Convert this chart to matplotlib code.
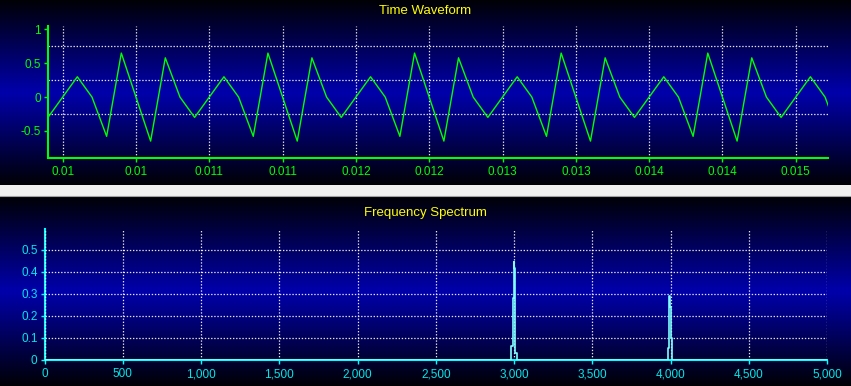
import numpy as np
import matplotlib
matplotlib.use("Agg")
import matplotlib.pyplot as plt
from matplotlib.colors import LinearSegmentedColormap

plt.rcParams['font.family'] = ['Liberation Sans', 'DejaVu Sans']

# ---------------- data ----------------
# Time waveform: samples every 0.1 ms starting at t = 0.0099 s
t_start = 0.0099
t_step = 0.0001
wave_values = [
    -0.30, 0.00, 0.30, 0.00, -0.58, 0.65, 0.00, -0.65, 0.58, 0.00,
    -0.30, 0.00, 0.30, 0.00, -0.58, 0.65, 0.00, -0.65, 0.58, 0.00,
    -0.30, 0.00, 0.30, 0.00, -0.58, 0.65, 0.00, -0.65, 0.58, 0.00,
    -0.30, 0.00, 0.30, 0.00, -0.58, 0.65, 0.00, -0.65, 0.58, 0.00,
    -0.30, 0.00, 0.30, 0.00, -0.58, 0.65, 0.00, -0.65, 0.58, 0.00,
    -0.30, 0.00, 0.30, 0.00, -0.58,
]
time_ticks = [0.0100, 0.0105, 0.0110, 0.0115, 0.0120, 0.0125,
              0.0130, 0.0135, 0.0140, 0.0145, 0.0150]
time_tick_labels = ['0.01', '0.01', '0.011', '0.011', '0.012', '0.012',
                    '0.013', '0.013', '0.014', '0.014', '0.015']
wave_yticks = [-0.5, 0, 0.5, 1]
wave_ytick_labels = ['-0.5', '0', '0.5', '1']
wave_grid_y = [-0.25, 0.25, 0.75]

# Frequency spectrum
spec_freq = [0, 2980, 2987, 2994, 3000, 3006, 3013, 3020,
             3980, 3987, 3994, 4000, 4006, 4013, 5000]
spec_amp = [0, 0, 0.064, 0.28, 0.447, 0.418, 0.033, 0,
            0, 0.056, 0.29, 0.24, 0.10, 0, 0]
freq_ticks = [0, 500, 1000, 1500, 2000, 2500, 3000, 3500, 4000, 4500, 5000]
freq_tick_labels = ['0', '500', '1,000', '1,500', '2,000', '2,500',
                    '3,000', '3,500', '4,000', '4,500', '5,000']
spec_yticks = [0, 0.1, 0.2, 0.3, 0.4, 0.5]
spec_ytick_labels = ['0', '0.1', '0.2', '0.3', '0.4', '0.5']

# ---------------- figure ----------------
W, H = 851, 386
fig = plt.figure(figsize=(W / 100, H / 100), dpi=100)
fig.patch.set_facecolor('#f0f0f0')

def fx(px):
    return px / W

def fy(py):
    return 1 - py / H

cmap = LinearSegmentedColormap.from_list(
    'bg', [(0, 0, 0.02), (0, 0, 0.67), (0, 0, 0.02)])
grad = np.linspace(0, 1, 256).reshape(-1, 1)

def panel_bg(top_px, bot_px):
    bg = fig.add_axes([0, fy(bot_px), 1, (bot_px - top_px) / H], zorder=0)
    bg.imshow(grad, aspect='auto', cmap=cmap, extent=[0, 1, 0, 1])
    bg.set_axis_off()
    return bg

panel_bg(0, 185)
panel_bg(196, 386)
# separator line
fig.add_artist(plt.Line2D([0, 1], [fy(195.5), fy(195.5)], color='#a0a0a0', lw=0.8))

grid_kw = dict(color='white', lw=0.9, linestyle=(0, (1.1, 1.4)), alpha=0.9)

# ---- top: time waveform ----
GREEN = '#00ff00'
ax1 = fig.add_axes([fx(48), fy(158), fx(828) - fx(48), fy(26) - fy(158)], zorder=1)
ax1.patch.set_alpha(0)
t = t_start + np.arange(len(wave_values)) * t_step
ax1.plot(t, wave_values, color=GREEN, lw=1.0, zorder=3)
ax1.set_xlim(0.0099, 0.01522)
ax1.set_ylim(-0.9, 1.05)
for s in ['top', 'right']:
    ax1.spines[s].set_visible(False)
for s in ['left', 'bottom']:
    ax1.spines[s].set_color(GREEN)
    ax1.spines[s].set_linewidth(1.5)
ax1.set_xticks(time_ticks)
ax1.set_xticklabels(time_tick_labels)
ax1.set_yticks(wave_yticks)
ax1.set_yticklabels(wave_ytick_labels)
ax1.tick_params(colors=GREEN, labelcolor=GREEN, labelsize=8.5, length=3, width=1, pad=2)
ax1.tick_params(axis='x', pad=3)
for x in time_ticks:
    ax1.axvline(x, zorder=1, **grid_kw)
for y in wave_grid_y:
    ax1.axhline(y, zorder=1, **grid_kw)
fig.text(0.5, fy(11), 'Time Waveform', color='#ffff00', fontsize=9.5,
         ha='center', va='center')

# ---- bottom: frequency spectrum ----
CYAN = '#00ffff'
ax2 = fig.add_axes([fx(44.5), fy(360), fx(827) - fx(44.5), fy(229) - fy(360)], zorder=1)
ax2.patch.set_alpha(0)
ax2.step(spec_freq, spec_amp, where='mid', color='#80ffff', lw=1.2, zorder=3)
ax2.set_xlim(0, 5000)
ax2.set_ylim(0, 0.595)
for s in ['top', 'right']:
    ax2.spines[s].set_visible(False)
for s in ['left', 'bottom']:
    ax2.spines[s].set_color(CYAN)
    ax2.spines[s].set_linewidth(1.5)
ax2.set_xticks(freq_ticks)
ax2.set_xticklabels(freq_tick_labels)
ax2.set_yticks(spec_yticks)
ax2.set_yticklabels(spec_ytick_labels)
ax2.tick_params(colors=CYAN, labelcolor='#00e8e8', labelsize=8.5, length=3, width=1, pad=2)
ax2.tick_params(axis='x', pad=3)
for x in freq_ticks:
    ax2.axvline(x, zorder=1, **grid_kw)
for y in spec_yticks[1:]:
    ax2.axhline(y, zorder=1, **grid_kw)
# white dotted grid line drawn over the left axis as in the reference
ax2.axvline(0, zorder=4, clip_on=False, **grid_kw)
fig.text(0.5, fy(213), 'Frequency Spectrum', color='#ffff00', fontsize=9.5,
         ha='center', va='center')

fig.savefig('out.png', dpi=100, facecolor=fig.get_facecolor())
